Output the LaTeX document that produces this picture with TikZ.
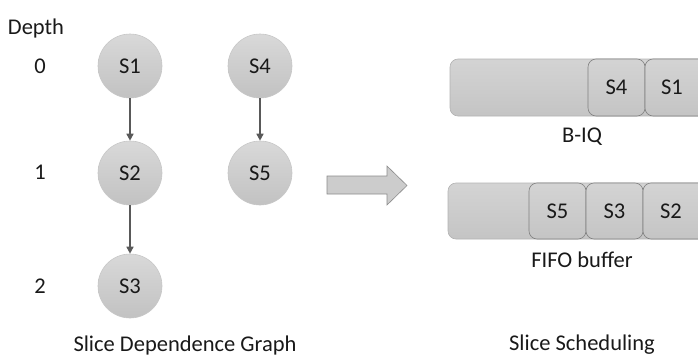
\documentclass[tikz,border=0pt]{standalone}
\usepackage{fontspec}
\setmainfont{Carlito}
\usetikzlibrary{arrows.meta}
\begin{document}
\begin{tikzpicture}[x=1pt,y=-1pt,
  every node/.style={font=\fontsize{22.5}{26}\selectfont, text=black!90},
  slice/.style={circle, minimum size=64pt, inner sep=0pt, draw=black!22, line width=0.6pt, top color=black!15, bottom color=black!24},
  dep/.style={-{Triangle[length=7pt,width=7pt]}, draw=black!65, line width=1.6pt},
  bar/.style={rounded corners=8pt, draw=black!30, line width=0.6pt, top color=black!17, bottom color=black!23},
  slot/.style={rounded corners=8pt, draw=black!50, line width=0.6pt, top color=black!17, bottom color=black!23},
  lbl/.style={inner sep=0pt}
]
\useasboundingbox (0,0) rectangle (698,356);
% depth labels
\node[lbl] (depth) at (36,29) {Depth};
\node[lbl] (d0) at (40,66) {0};
\node[lbl] (d1) at (40,172) {1};
\node[lbl] (d2) at (40,286) {2};
% graph
\node[slice] (s1) at (130,66) {S1};
\node[slice] (s2) at (130,173) {S2};
\node[slice] (s3) at (130,286) {S3};
\node[slice] (s4) at (260,66) {S4};
\node[slice] (s5) at (260,173) {S5};
\draw[dep] (s1) -- (s2);
\draw[dep] (s2) -- (s3);
\draw[dep] (s4) -- (s5);
\node[lbl] (cap1) at (185,345) {Slice Dependence Graph};
% big arrow
\draw[draw=black!45, line width=0.6pt, fill=black!20]
  (327,176) -- (387,176) -- (387,166) -- (407,185.5) -- (387,205) -- (387,194) -- (327,194) -- cycle;
% B-IQ
\path[bar] (450,59) rectangle (710,116);
\path[slot] (588,59) rectangle (645,116);
\path[slot] (645,59) rectangle (710,116);
\node[lbl] (biq4) at (616.5,87.5) {S4};
\node[lbl] (biq1) at (672,87.5) {S1};
\node[lbl] (biq) at (582,137) {B-IQ};
% FIFO
\path[bar] (448,183) rectangle (710,239);
\path[slot] (529,183) rectangle (586,239);
\path[slot] (586,183) rectangle (643,239);
\path[slot] (643,183) rectangle (710,239);
\node[lbl] (f5) at (557.5,211) {S5};
\node[lbl] (f3) at (614.5,211) {S3};
\node[lbl] (f2) at (671,211) {S2};
\node[lbl] (fifo) at (582,260) {FIFO buffer};
\node[lbl] (cap2) at (582,345) {Slice Scheduling};
\end{tikzpicture}
\end{document}
